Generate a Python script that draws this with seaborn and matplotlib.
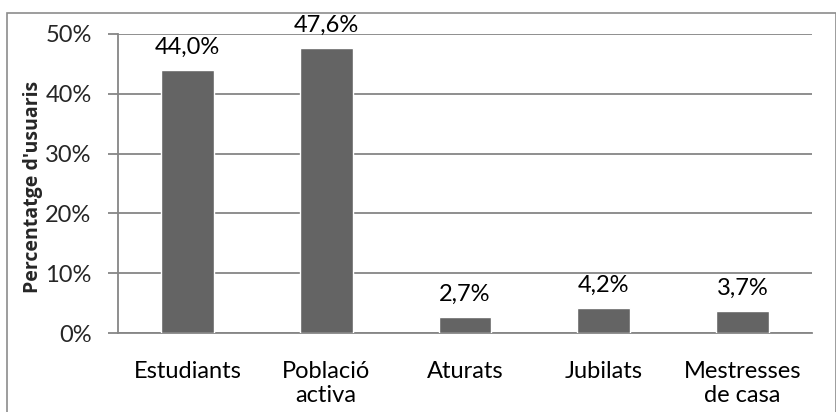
import seaborn as sns
import matplotlib.pyplot as plt
from matplotlib.patches import Rectangle
from matplotlib.ticker import FuncFormatter

categories = ["Estudiants", "Població\nactiva", "Aturats", "Jubilats", "Mestresses\nde casa"]
values = [44.0, 47.6, 2.7, 4.2, 3.7]
labels = ["44,0%", "47,6%", "2,7%", "4,2%", "3,7%"]

sns.set_theme(style = "white")
plt.rcParams['font.family'] = ['Lato', 'DejaVu Sans']

fig = plt.figure(figsize = (8.37, 4.12), dpi = 100)
ax = fig.add_axes([118 / 837, 79 / 412, 694 / 837, 299 / 412])

# outer chart border
fig.patches.append(Rectangle((7 / 837, -0.1), 829 / 837, 1.1 - 13 / 412,
                             transform = fig.transFigure, fill = False,
                             edgecolor = '#8c8c8c', linewidth = 1.2))

sns.barplot(x = categories, y = values, color = '#646464', saturation = 1,
            width = 0.38, ax = ax, zorder = 3)

for i, (v, t) in enumerate(zip(values, labels)):
    ax.annotate(t, (i, v), xytext = (0, 9), textcoords = 'offset points',
                ha = 'center', va = 'bottom', fontsize = 17, color = '#000000')

ax.set_ylim(0, 50)
ax.set_xlim(-0.5, 4.5)
ax.set_yticks(range(0, 51, 10))
ax.yaxis.set_major_formatter(FuncFormatter(lambda v, p: f"{v:.0f}%"))
ax.set_ylabel("Percentatge d'usuaris", fontsize = 14, fontweight = 'bold',
              family = ['Open Sans', 'DejaVu Sans'])
ax.yaxis.set_label_coords(-0.108, 0.49)
ax.set_xlabel('')

ax.grid(axis = 'y', color = '#868686', linewidth = 1.3, zorder = 0)
for s in ['top', 'right']:
    ax.spines[s].set_visible(False)
for s in ['left', 'bottom']:
    ax.spines[s].set_color('#868686')
    ax.spines[s].set_linewidth(1.3)

ax.set_xticks([i - 0.5 for i in range(6)], minor = True)
ax.tick_params(axis = 'x', which = 'major', length = 0, labelsize = 17, pad = 20, colors = '#000000')
ax.tick_params(axis = 'x', which = 'minor', length = 7, color = '#868686', width = 1.3, direction = 'out')
ax.tick_params(axis = 'y', length = 7, color = '#868686', width = 1.3, labelsize = 17, pad = 12,
               left = True, direction = 'out')

fig.savefig('out.png', dpi = 100)
